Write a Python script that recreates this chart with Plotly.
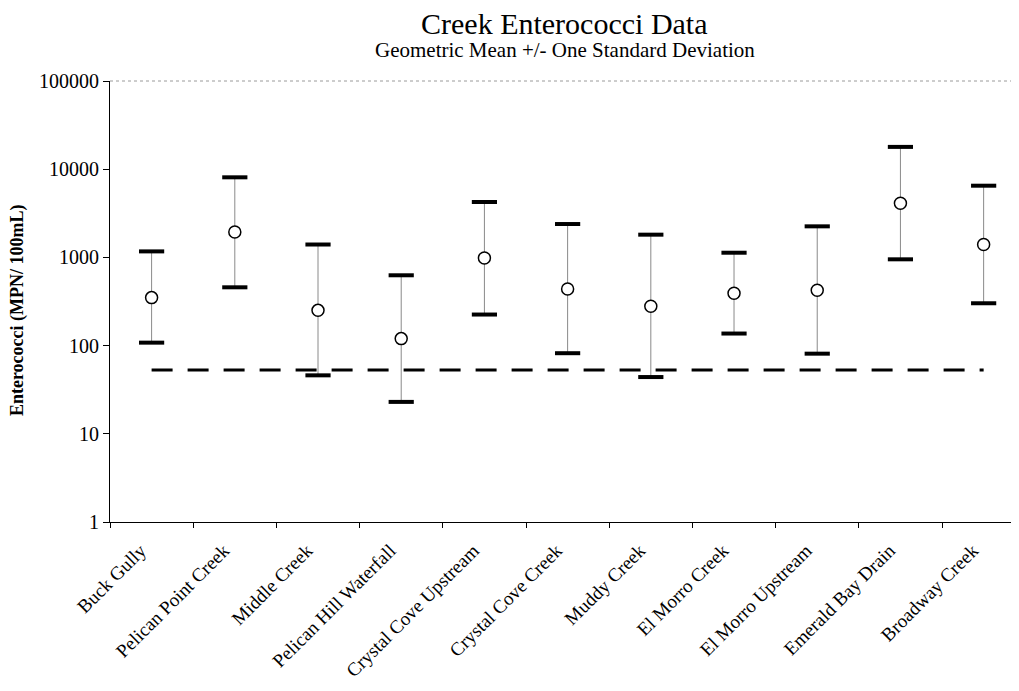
import plotly.graph_objects as go

categories = ["Buck Gully", "Pelican Point Creek", "Middle Creek", "Pelican Hill Waterfall",
              "Crystal Cove Upstream", "Crystal Cove Creek", "Muddy Creek", "El Morro Creek",
              "El Morro Upstream", "Emerald Bay Drain", "Broadway Creek"]
geo_mean = [350, 1940, 251, 120, 985, 438, 279, 392, 424, 4110, 1400]
upper = [1170, 8090, 1400, 627, 4250, 2390, 1810, 1130, 2250, 17900, 6500]
lower = [108, 458, 46, 23, 225, 82, 44, 137, 81, 951, 302]
standard_value = 53
y_ticks = [1, 10, 100, 1000, 10000, 100000]
y_tick_labels = ["1", "10", "100", "1000", "10000", "100000"]

FONT = "Liberation Serif, Times New Roman, serif"

fig = go.Figure()

# whiskers
wx, wy = [], []
for c, lo, hi in zip(categories, lower, upper):
    wx += [c, c, None]
    wy += [lo, hi, None]
fig.add_trace(go.Scatter(x=wx, y=wy, mode="lines", line=dict(color="#8a8a8a", width=1),
                         hoverinfo="skip", showlegend=False))

# standard dashed line
fig.add_trace(go.Scatter(x=[categories[0], categories[-1]], y=[standard_value, standard_value],
                         mode="lines", line=dict(color="black", width=3, dash="21px,15px"),
                         showlegend=False))

# caps
fig.add_trace(go.Scatter(x=categories + categories, y=upper + lower, mode="markers",
                         marker=dict(symbol="line-ew", size=18, line=dict(color="black", width=4)),
                         showlegend=False))

# means
fig.add_trace(go.Scatter(x=categories, y=geo_mean, mode="markers",
                         marker=dict(symbol="circle", size=12, color="white",
                                     line=dict(color="black", width=1.5)),
                         showlegend=False))

fig.update_layout(
    width=1011, height=683,
    margin=dict(l=102, r=0, t=73, b=169),
    paper_bgcolor="white", plot_bgcolor="white",
    font=dict(family=FONT, color="black"),
    showlegend=False,
    xaxis=dict(
        type="category", categoryorder="array", categoryarray=categories,
        range=[-0.5, 10.425], showgrid=False, zeroline=False, automargin=False,
        showline=True, linecolor="black", linewidth=1,
        ticks="outside", tickson="boundaries", ticklen=5, tickcolor="black",
        tickangle=-45, ticklabelstandoff=9, ticklabelshift=-11,
        tickfont=dict(family=FONT, size=19, color="black"),
    ),
    yaxis=dict(
        type="log", range=[0, 5], showgrid=False, zeroline=False, automargin=False,
        showline=True, linecolor="black", linewidth=1,
        tickmode="array", tickvals=y_ticks, ticktext=y_tick_labels,
        ticks="outside", ticklen=6, tickcolor="black",
        tickfont=dict(family=FONT, size=20, color="black"),
    ),
    shapes=[dict(type="line", xref="paper", yref="paper", x0=0, x1=1, y0=1, y1=1,
                 line=dict(color="#9a9a9a", width=1, dash="dot"))],
    annotations=[
        dict(text="Creek Enterococci Data", xref="paper", yref="paper", x=0.50, y=1.0,
             yanchor="middle", yshift=58, showarrow=False,
             font=dict(family=FONT, size=30, color="black")),
        dict(text="Geometric Mean +/- One Standard Deviation", xref="paper", yref="paper",
             x=0.50, y=1.0, yanchor="middle", yshift=31, showarrow=False,
             font=dict(family=FONT, size=21, color="black")),
        dict(text="<b>Enterococci (MPN/ 100mL)</b>", xref="paper", yref="paper",
             x=-0.101, y=0.481, xanchor="center", yanchor="middle", textangle=-90,
             showarrow=False, font=dict(family=FONT, size=18, color="black")),
    ],
)

fig.write_html("out.html")
